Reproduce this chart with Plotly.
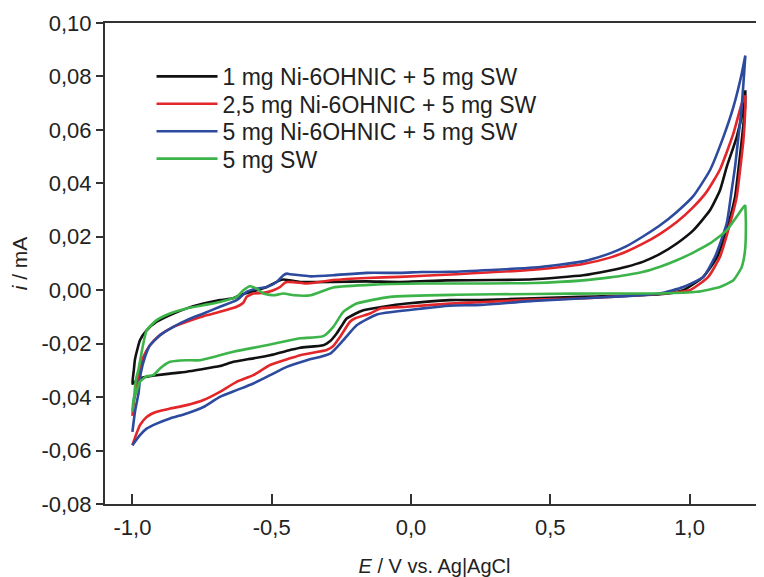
import plotly.graph_objects as go

# ---- data (E in V vs Ag|AgCl, i in mA) ----
series_names = [
    "1 mg Ni-6OHNIC + 5 mg SW",
    "2,5 mg Ni-6OHNIC + 5 mg SW",
    "5 mg Ni-6OHNIC + 5 mg SW",
    "5 mg SW",
]
series_colors = ["#111111", "#e3262a", "#2c4a9e", "#3cb449"]

# black: 1 mg
black_fwd_E = [-1.0, -0.995, -0.991, -0.982, -0.973, -0.949, -0.913, -0.865, -0.805, -0.745, -0.686,
               -0.639, -0.614, -0.567, -0.518, -0.475, -0.458, -0.434, -0.398, -0.28, -0.16, -0.04,
               0.128, 0.30, 0.439, 0.618, 0.714, 0.774, 0.834, 0.894, 0.954, 1.013, 1.073, 1.109,
               1.133, 1.169, 1.193, 1.2]
black_fwd_i = [-0.035, -0.030, -0.026, -0.022, -0.0187, -0.015, -0.0118, -0.0093, -0.0068, -0.005,
               -0.0037, -0.003, -0.0019, -0.0004, 0.0012, 0.0035, 0.004, 0.0037, 0.0031, 0.0031,
               0.0033, 0.0031, 0.0037, 0.0038, 0.0041, 0.0056, 0.0074, 0.0088, 0.0107, 0.0136,
               0.0175, 0.0224, 0.0299, 0.0374, 0.0461, 0.0573, 0.0685, 0.0748]
black_rev_E = [1.2, 1.199, 1.187, 1.175, 1.163, 1.139, 1.099, 1.049, 0.977, 0.894, 0.714, 0.607, 0.44,
               0.248, 0.14, -0.015, -0.10, -0.171, -0.2, -0.231, -0.25, -0.267, -0.29, -0.315,
               -0.398, -0.434, -0.506, -0.566, -0.637, -0.686, -0.757, -0.805, -0.865, -0.913,
               -0.949, -0.973, -0.991, -1.0]
black_rev_i = [0.0748, 0.0685, 0.056, 0.045, 0.0349, 0.0249, 0.0125, 0.005, 0.0, -0.0015, -0.0022,
               -0.0025, -0.003, -0.0037, -0.0037, -0.005, -0.0062, -0.0075, -0.0088, -0.0106,
               -0.0135, -0.0162, -0.019, -0.0206, -0.0215, -0.0224, -0.0243, -0.0255, -0.0268,
               -0.0284, -0.0297, -0.0305, -0.0312, -0.0318, -0.0324, -0.033, -0.0343, -0.035]

# red: 2,5 mg
red_fwd_E = [-1.0, -0.995, -0.985, -0.979, -0.961, -0.937, -0.901, -0.853, -0.805, -0.745, -0.686,
             -0.626, -0.602, -0.59, -0.566, -0.53, -0.494, -0.47, -0.45, -0.42, -0.37, -0.28,
             -0.16, -0.04, 0.164, 0.44, 0.618, 0.714, 0.774, 0.834, 0.894, 0.954, 1.013, 1.061,
             1.109, 1.157, 1.187, 1.2]
red_fwd_i = [-0.047, -0.042, -0.036, -0.0324, -0.025, -0.0206, -0.0168, -0.0137, -0.0118, -0.0097,
             -0.0081, -0.0062, -0.0047, -0.0025, -0.0012, -0.001, 0.0, 0.0012, 0.003, 0.003,
             0.0025, 0.0038, 0.0046, 0.005, 0.006, 0.0077, 0.0098, 0.0122, 0.0145, 0.0175, 0.0211,
             0.0255, 0.0311, 0.0368, 0.0452, 0.0586, 0.0698, 0.0729]
red_rev_E = [1.2, 1.2, 1.193, 1.181, 1.169, 1.145, 1.109, 1.067, 1.001, 0.906, 0.714, 0.607, 0.44,
             0.25, 0.14, -0.015, -0.11, -0.147, -0.2, -0.219, -0.255, -0.28, -0.303, -0.398,
             -0.434, -0.506, -0.566, -0.626, -0.686, -0.745, -0.805, -0.865, -0.913, -0.949,
             -0.973, -0.99, -1.0]
red_rev_i = [0.0729, 0.0685, 0.056, 0.0449, 0.0349, 0.0249, 0.0125, 0.005, 0.0, -0.0012, -0.0025,
             -0.0031, -0.0035, -0.0045, -0.005, -0.0062, -0.0068, -0.0087, -0.0105, -0.0118,
             -0.0175, -0.021, -0.0224, -0.0243, -0.0255, -0.028, -0.0318, -0.0343, -0.038,
             -0.0411, -0.043, -0.0443, -0.0455, -0.0474, -0.0505, -0.055, -0.058]

# blue: 5 mg
blue_fwd_E = [-1.0, -0.99, -0.978, -0.97, -0.955, -0.937, -0.901, -0.853, -0.805, -0.745, -0.686,
              -0.626, -0.59, -0.554, -0.518, -0.482, -0.458, -0.446, -0.434, -0.398, -0.36, -0.28,
              -0.16, -0.04, 0.04, 0.14, 0.44, 0.618, 0.714, 0.774, 0.834, 0.894, 0.954, 1.013,
              1.073, 1.121, 1.157, 1.187, 1.2]
blue_fwd_i = [-0.053, -0.0449, -0.0385, -0.031, -0.025, -0.0206, -0.0168, -0.0137, -0.0112,
              -0.0087, -0.0062, -0.0037, -0.0006, 0.0006, 0.0012, 0.0031, 0.0056, 0.0062, 0.006,
              0.0056, 0.0052, 0.0056, 0.0065, 0.0065, 0.0068, 0.0069, 0.0085, 0.0108, 0.0138,
              0.0165, 0.0202, 0.0243, 0.0293, 0.0352, 0.0449, 0.0573, 0.0685, 0.081, 0.0878]
blue_rev_E = [1.2, 1.187, 1.175, 1.163, 1.151, 1.133, 1.091, 1.049, 0.977, 0.894, 0.774, 0.714,
              0.607, 0.44, 0.25, 0.14, 0.044, -0.12, -0.195, -0.243, -0.29, -0.374, -0.446,
              -0.506, -0.566, -0.626, -0.686, -0.745, -0.805, -0.865, -0.913, -0.949, -0.973,
              -1.0]
blue_rev_i = [0.0878, 0.0685, 0.0573, 0.0461, 0.0374, 0.0249, 0.0125, 0.005, 0.0012, -0.0012,
              -0.0022, -0.0025, -0.0031, -0.004, -0.0055, -0.0058, -0.0068, -0.009, -0.0131,
              -0.0187, -0.0237, -0.0262, -0.0287, -0.0318, -0.0349, -0.0374, -0.0399, -0.0437,
              -0.0461, -0.048, -0.0499, -0.0518, -0.0542, -0.058]

# green: 5 mg SW
green_fwd_E = [-1.0, -0.994, -0.988, -0.979, -0.961, -0.949, -0.913, -0.865, -0.805, -0.745, -0.686,
               -0.626, -0.602, -0.578, -0.554, -0.53, -0.494, -0.458, -0.42, -0.36, -0.28, -0.135,
               0.044, 0.14, 0.44, 0.618, 0.714, 0.774, 0.834, 0.894, 0.954, 1.013, 1.073, 1.133,
               1.193, 1.2]
green_fwd_i = [-0.045, -0.040, -0.0337, -0.03, -0.02, -0.015, -0.0112, -0.0087, -0.0068, -0.0056,
               -0.0044, -0.0025, 0.0, 0.0015, 0.0006, -0.0012, -0.0019, -0.0012, -0.0019, -0.0019,
               0.001, 0.0021, 0.0025, 0.0025, 0.0027, 0.0037, 0.0048, 0.0057, 0.0069, 0.0088,
               0.0112, 0.0141, 0.0175, 0.0224, 0.0311, 0.0318]
green_rev_E = [1.2, 1.202, 1.199, 1.187, 1.157, 1.109, 1.025, 0.894, 0.714, 0.44, 0.164, -0.075,
               -0.195, -0.243, -0.279, -0.315, -0.398, -0.434, -0.518, -0.638, -0.757, -0.805,
               -0.865, -0.901, -0.925, -0.949, -0.973, -0.985, -0.995, -1.0]
green_rev_i = [0.0318, 0.0249, 0.015, 0.0087, 0.0037, 0.0012, -0.0006, -0.0012, -0.0012, -0.0014,
               -0.0017, -0.0025, -0.005, -0.0081, -0.0137, -0.0172, -0.018, -0.0187, -0.0206,
               -0.023, -0.0262, -0.0262, -0.0268, -0.0293, -0.0318, -0.0322, -0.0343, -0.038,
               -0.0404, -0.045]

x_tick_vals = [-1.0, -0.5, 0.0, 0.5, 1.0]
x_tick_text = ["-1,0", "-0,5", "0,0", "0,5", "1,0"]
y_tick_vals = [-0.08, -0.06, -0.04, -0.02, 0.0, 0.02, 0.04, 0.06, 0.08, 0.10]
y_tick_text = ["-0,08", "-0,06", "-0,04", "-0,02", "0,00", "0,02", "0,04", "0,06", "0,08", "0,10"]

curves = [
    (black_fwd_E + black_rev_E, black_fwd_i + black_rev_i),
    (red_fwd_E + red_rev_E, red_fwd_i + red_rev_i),
    (blue_fwd_E + blue_rev_E, blue_fwd_i + blue_rev_i),
    (green_fwd_E + green_rev_E, green_fwd_i + green_rev_i),
]

FONT = "Liberation Sans, Arial, sans-serif"
legend_ids = ["legend", "legend2", "legend3", "legend4"]
legend_rows_y = [0.889, 0.832, 0.775, 0.718]

fig = go.Figure()
for (ex, iy), name, col, lg in zip(curves, series_names, series_colors, legend_ids):
    fig.add_trace(go.Scatter(x=ex, y=iy, mode="lines", name=name, legend=lg,
                             line=dict(color=col, width=2.6, shape="spline", smoothing=0.5)))

legend_common = dict(x=0.0706, xanchor="left", yanchor="middle", bgcolor="rgba(0,0,0,0)",
                     font=dict(size=23, family=FONT, color="#222222"), itemwidth=61)
legend_layout = {lg: dict(legend_common, y=yy) for lg, yy in zip(legend_ids, legend_rows_y)}

axis_col = "#333333"
# the page body adds an 8 px offset, so the figure is 8 px smaller than the window
fig.update_layout(
    width=756, height=569,
    margin=dict(l=97, r=0, t=15, b=73),
    paper_bgcolor="white", plot_bgcolor="white",
    font=dict(family=FONT, size=22, color="#222222"),
    showlegend=True,
    **legend_layout,
    xaxis=dict(range=[-1.0984, 1.267], tickvals=x_tick_vals, ticktext=x_tick_text,
               automargin=False,
               showgrid=False, zeroline=False, showline=True, linecolor=axis_col, linewidth=2,
               mirror=True, ticks="inside", ticklen=10, tickwidth=2, tickcolor=axis_col,
               ticklabelstandoff=3,
               title=dict(text="<i>E</i> / V vs. Ag|AgCl", font=dict(size=20), standoff=22)),
    yaxis=dict(range=[-0.08, 0.10], tickvals=y_tick_vals, ticktext=y_tick_text,
               automargin=False,
               showgrid=False, zeroline=False, showline=True, linecolor=axis_col, linewidth=2,
               mirror=False, ticks="outside", ticklen=7, tickwidth=2, tickcolor=axis_col,
               title=dict(text="<i>i</i> / mA", font=dict(size=21), standoff=14)),
)

fig.write_html("out.html")
